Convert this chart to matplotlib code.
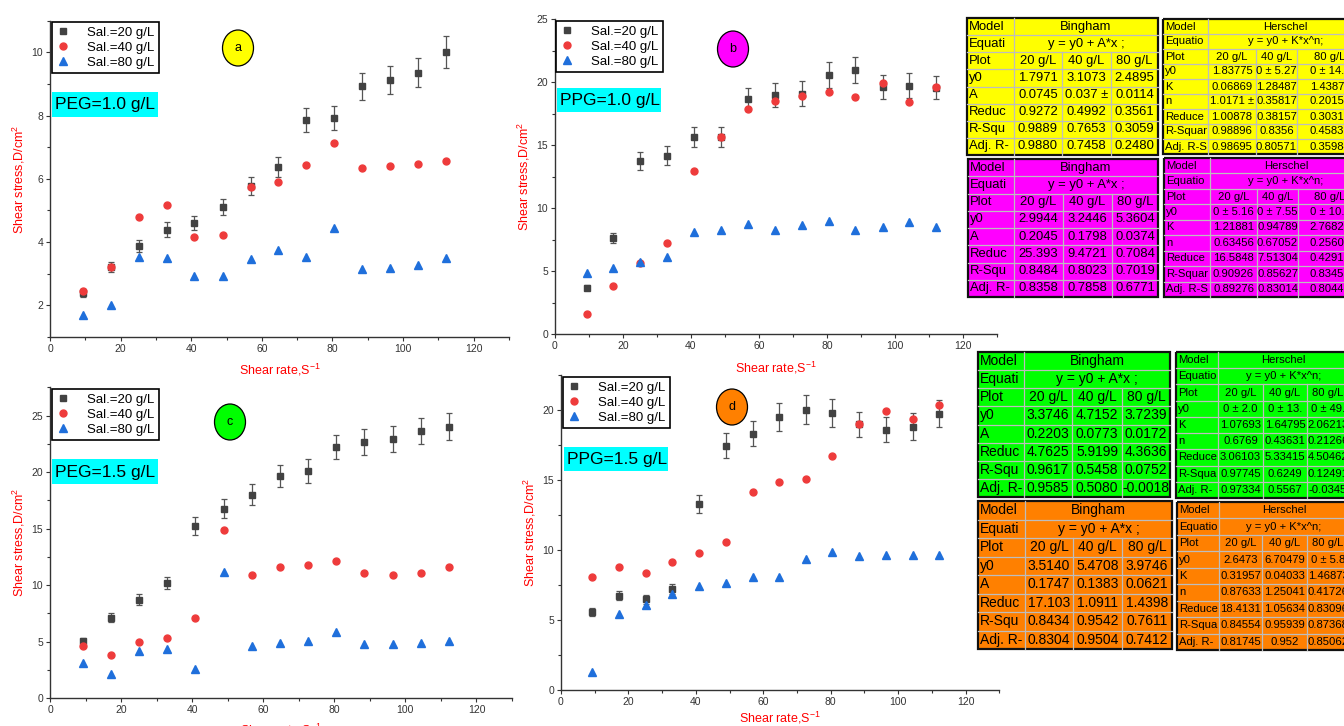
import matplotlib
matplotlib.use('Agg')
import matplotlib.pyplot as plt
from matplotlib.patches import Rectangle, Ellipse
from matplotlib.ticker import MultipleLocator

plt.rcParams['font.family'] = ['Liberation Sans', 'DejaVu Sans']
plt.rcParams['mathtext.default'] = 'regular'

W, H = 1344, 726

shear_rate = [9.3, 17.2, 25.1, 33.0, 40.9, 48.9, 56.8, 64.7, 72.6, 80.5, 88.4, 96.4, 104.3, 112.2]
sal_labels = ['Sal.=20 g/L', 'Sal.=40 g/L', 'Sal.=80 g/L']

# (a) PEG=1.0 g/L
a_20 = [2.39, 3.21, 3.88, 4.39, 4.60, 5.11, 5.78, 6.37, 7.86, 7.92, 8.93, 9.12, 9.36, 10.01]
a_20_err = [0.12, 0.16, 0.20, 0.23, 0.23, 0.26, 0.29, 0.31, 0.39, 0.38, 0.43, 0.45, 0.47, 0.51]
a_40 = [2.47, 3.21, 4.80, 5.16, 4.16, 4.21, 5.75, 5.89, 6.44, 7.14, 6.33, 6.41, 6.46, 6.56]
a_80 = [1.70, 2.02, 3.54, 3.50, 2.94, 2.92, 3.46, 3.74, 3.54, 4.45, 3.15, 3.19, 3.27, 3.50]

# (b) PPG=1.0 g/L
b_20 = [3.68, 7.63, 13.74, 14.17, 15.65, 15.65, 18.64, 18.99, 19.09, 20.60, 21.00, 19.65, 19.73, 19.57]
b_20_err = [0.18, 0.37, 0.69, 0.74, 0.79, 0.80, 0.93, 0.95, 0.98, 1.03, 1.03, 0.95, 0.98, 0.93]
b_40 = [1.56, 3.79, 5.67, 7.20, 12.95, 15.65, 17.88, 18.49, 18.91, 19.20, 18.86, 19.92, 18.41, 19.62]
b_80 = [4.85, 5.22, 5.72, 6.14, 8.08, 8.24, 8.77, 8.29, 8.69, 8.98, 8.29, 8.50, 8.92, 8.53]

# (c) PEG=1.5 g/L
c_20 = [5.07, 7.13, 8.73, 10.20, 15.27, 16.75, 18.01, 19.66, 20.10, 22.23, 22.67, 22.97, 23.64, 24.03]
c_20_err = [0.25, 0.38, 0.47, 0.53, 0.80, 0.85, 0.91, 0.97, 1.03, 1.09, 1.12, 1.15, 1.18, 1.18]
c_40 = [4.66, 3.86, 4.98, 5.37, 7.11, 14.86, 10.88, 11.62, 11.79, 12.12, 11.06, 10.88, 11.06, 11.62]
c_80 = [3.15, 2.15, 4.22, 4.39, 2.59, 11.14, 4.66, 4.86, 5.04, 5.84, 4.78, 4.83, 4.92, 5.10]

# (d) PPG=1.5 g/L
d_20 = [5.60, 6.74, 6.48, 7.24, 13.31, 17.45, 18.31, 19.48, 20.02, 19.76, 18.98, 18.60, 18.81, 19.74]
d_20_err = [0.28, 0.33, 0.32, 0.36, 0.65, 0.88, 0.90, 1.00, 1.02, 1.00, 0.88, 0.90, 0.95, 0.98]
d_40 = [8.07, 8.81, 8.36, 9.12, 9.79, 10.55, 14.12, 14.86, 15.07, 16.71, 18.98, 19.90, 19.36, 20.38]
d_80 = [1.33, 5.45, 6.12, 6.86, 7.45, 7.69, 8.05, 8.12, 9.40, 9.86, 9.57, 9.67, 9.69, 9.69]

# fit tables
conc_cols = ['20 g/L', '40 g/L', '80 g/L']
bing_labels = ['y0', 'A', 'Reduc', 'R-Squ', 'Adj. R-']
hers_labels_top = ['y0', 'K', 'n', 'Reduce', 'R-Squar', 'Adj. R-S']
hers_labels_bot = ['y0', 'K', 'n', 'Reduce', 'R-Squa', 'Adj. R-']

a_bingham = [['1.7971', '3.1073', '2.4895'], ['0.0745', '0.037 ±', '0.0114'],
             ['0.9272', '0.4992', '0.3561'], ['0.9889', '0.7653', '0.3059'],
             ['0.9880', '0.7458', '0.2480']]
a_herschel = [['1.83775', '0 ± 5.27', '0 ± 14.2'], ['0.06869', '1.28487', '1.43872'],
              ['1.0171 ±', '0.35817', '0.20158'], ['1.00878', '0.38157', '0.30314'],
              ['0.98896', '0.8356', '0.45836'], ['0.98695', '0.80571', '0.35984']]
b_bingham = [['2.9944', '3.2446', '5.3604'], ['0.2045', '0.1798', '0.0374'],
             ['25.393', '9.4721', '0.7084'], ['0.8484', '0.8023', '0.7019'],
             ['0.8358', '0.7858', '0.6771']]
b_herschel = [['0 ± 5.16', '0 ± 7.55', '0 ± 10.6'], ['1.21881', '0.94789', '2.76825'],
              ['0.63456', '0.67052', '0.25602'], ['16.5848', '7.51304', '0.42913'],
              ['0.90926', '0.85627', '0.83451'], ['0.89276', '0.83014', '0.80442']]
c_bingham = [['3.3746', '4.7152', '3.7239'], ['0.2203', '0.0773', '0.0172'],
             ['4.7625', '5.9199', '4.3636'], ['0.9617', '0.5458', '0.0752'],
             ['0.9585', '0.5080', '-0.0018']]
c_herschel = [['0 ± 2.0', '0 ± 13.', '0 ± 49.'], ['1.07693', '1.64795', '2.06213'],
              ['0.6769', '0.43631', '0.21266'], ['3.06103', '5.33415', '4.50462'],
              ['0.97745', '0.6249', '0.12491'], ['0.97334', '0.5567', '-0.0345']]
d_bingham = [['3.5140', '5.4708', '3.9746'], ['0.1747', '0.1383', '0.0621'],
             ['17.103', '1.0911', '1.4398'], ['0.8434', '0.9542', '0.7611'],
             ['0.8304', '0.9504', '0.7412']]
d_herschel = [['2.6473', '6.70479', '0 ± 5.8'], ['0.31957', '0.04033', '1.46873'],
              ['0.87633', '1.25041', '0.41726'], ['18.4131', '1.05634', '0.83096'],
              ['0.84554', '0.95939', '0.87368'], ['0.81745', '0.952', '0.85062']]

sq_color = '#424242'
ci_color = '#EE3B3B'
tr_color = '#1F6FDB'

fig = plt.figure(figsize=(W / 100, H / 100), dpi=100)
fig.patch.set_facecolor('white')

# overlay in pixel units for boxes / tables
ov = fig.add_axes([0, 0, 1, 1], zorder=10)
ov.set_xlim(0, W)
ov.set_ylim(H, 0)
ov.axis('off')
ov.patch.set_alpha(0)


def make_panel(box, ylim, ymaj, s20, e20, s40, s80, leg_xy, tag, tag_xy, tag_color,
               note, note_box, xlab_y):
    l, t, r, b = box
    ax = fig.add_axes([l / W, 1 - b / H, (r - l) / W, (b - t) / H])
    ax.errorbar(shear_rate, s20, yerr=e20, fmt='none', ecolor='#555555',
                elinewidth=0.9, capsize=2.2, capthick=0.9, zorder=2)
    ax.plot(shear_rate, s20, 's', color=sq_color, ms=4.6, label=sal_labels[0], zorder=3)
    ax.plot(shear_rate, s40, 'o', color=ci_color, ms=5.0, label=sal_labels[1], zorder=3)
    ax.plot(shear_rate, s80, '^', color=tr_color, ms=5.4, label=sal_labels[2], zorder=3)
    ax.set_xlim(0, 130)
    ax.set_ylim(*ylim)
    ax.xaxis.set_major_locator(MultipleLocator(20))
    ax.xaxis.set_minor_locator(MultipleLocator(10))
    ax.yaxis.set_major_locator(MultipleLocator(ymaj))
    ax.yaxis.set_minor_locator(MultipleLocator(ymaj / 2))
    for s in ['top', 'right']:
        ax.spines[s].set_visible(False)
    for s in ['left', 'bottom']:
        ax.spines[s].set_color('#333333')
        ax.spines[s].set_linewidth(1.0)
    ax.tick_params(which='major', direction='out', length=3, width=0.8,
                   colors='#333333', labelsize=7.5, pad=2)
    ax.tick_params(which='minor', direction='out', length=2, width=0.8, colors='#333333')
    ax.patch.set_alpha(0)
    ax.set_xlabel('Shear rate,S$^{-1}$', color='red', fontsize=9)
    ax.set_ylabel('Shear stress,D/cm$^2$', color='red', fontsize=9)
    ax.xaxis.set_label_coords(0.5, (b - xlab_y) / (b - t))
    ax.yaxis.set_label_coords((l - 23 - l) / (r - l), 0.5)
    leg = ax.legend(loc='upper left', bbox_to_anchor=leg_xy, bbox_transform=ov.transData,
                    borderaxespad=0, fancybox=False, framealpha=1, edgecolor='black',
                    fontsize=9.5, handlelength=1.0, handletextpad=1.3,
                    labelspacing=0.2, borderpad=0.35)
    leg.get_frame().set_linewidth(1.2)
    # letter tag
    ov.add_patch(Ellipse(tag_xy, 31, 36, facecolor=tag_color, edgecolor='black', lw=0.9))
    ov.text(tag_xy[0], tag_xy[1], tag, ha='center', va='center', fontsize=9)
    # concentration note
    nx0, ny0, nx1, ny1 = note_box
    ov.add_patch(Rectangle((nx0, ny0), nx1 - nx0, ny1 - ny0, facecolor='#00FFFF', edgecolor='none'))
    ov.text(nx0 + 3, (ny0 + ny1) / 2 + 0.5, note, ha='left', va='center', fontsize=12.5)
    return ax


def draw_table(x0, y0, widths, height, title, equation, labels, values, color, fs):
    nrows = 3 + len(labels)
    rh = height / nrows
    xs = [x0]
    for w in widths:
        xs.append(xs[-1] + w)
    ov.add_patch(Rectangle((x0, y0), xs[-1] - x0, height, facecolor=color, edgecolor='none'))
    for rr in range(1, nrows):
        ov.plot([x0, xs[-1]], [y0 + rr * rh] * 2, color='#BDBDBD', lw=0.9)
    ov.plot([xs[1], xs[1]], [y0, y0 + height], color='#BDBDBD', lw=0.9)
    for xv in xs[2:-1]:
        ov.plot([xv, xv], [y0 + 2 * rh, y0 + height], color='#BDBDBD', lw=0.9)
    ov.add_patch(Rectangle((x0, y0), xs[-1] - x0, height, facecolor='none',
                           edgecolor='#111111', lw=1.6))
    mid = (xs[1] + xs[-1]) / 2
    first = ['Model', 'Equati' if fs > 9 else 'Equatio', 'Plot'] + labels
    for rr, txt in enumerate(first):
        ov.text(x0 + 2, y0 + (rr + 0.5) * rh, txt, ha='left', va='center', fontsize=fs)
    ov.text(mid, y0 + 0.5 * rh, title, ha='center', va='center', fontsize=fs)
    ov.text(mid, y0 + 1.5 * rh, equation, ha='center', va='center', fontsize=fs)
    for c, col in enumerate(conc_cols):
        ov.text((xs[c + 1] + xs[c + 2]) / 2, y0 + 2.5 * rh, col, ha='center', va='center', fontsize=fs)
    for rr, row in enumerate(values):
        for c, v in enumerate(row):
            ov.text((xs[c + 1] + xs[c + 2]) / 2, y0 + (rr + 3.5) * rh, v,
                    ha='center', va='center', fontsize=fs)


make_panel((50, 20.7, 509, 337), (1, 11), 2, a_20, a_20_err, a_40, a_80,
           (52, 22), 'a', (238, 48), '#FFFF00', 'PEG=1.0 g/L', (52, 92, 158, 117), 362)
make_panel((555, 19.3, 996.7, 334), (0, 25), 5, b_20, b_20_err, b_40, b_80,
           (556, 21), 'b', (733, 49), '#FF00FF', 'PPG=1.0 g/L', (557, 88, 661, 112), 360)
make_panel((50, 387.3, 512, 698.3), (0, 27.5), 5, c_20, c_20_err, c_40, c_80,
           (52, 389), 'c', (230, 422), '#00FF00', 'PEG=1.5 g/L', (52, 459, 158, 484), 722)
make_panel((561, 375, 999.3, 690.3), (0, 22.5), 5, d_20, d_20_err, d_40, d_80,
           (563, 377), 'd', (732, 407), '#FF8000', 'PPG=1.5 g/L', (564, 447, 668, 471), 710)

draw_table(967, 18, [47, 48, 49, 47], 137, 'Bingham', 'y = y0 + A*x ;',
           bing_labels, a_bingham, '#FFFF00', 9.4)
draw_table(1163, 19, [45, 48, 41, 66], 135, 'Herschel', 'y = y0 + K*x^n;',
           hers_labels_top, a_herschel, '#FFFF00', 8.1)
draw_table(968, 159, [46, 49, 49, 46], 138, 'Bingham', 'y = y0 + A*x ;',
           bing_labels, b_bingham, '#FF00FF', 9.4)
draw_table(1164, 158, [46, 47, 41, 64], 139, 'Herschel', 'y = y0 + K*x^n;',
           hers_labels_top, b_herschel, '#FF00FF', 8.1)
draw_table(978, 352, [46, 48, 50, 48], 145, 'Bingham', 'y = y0 + A*x ;',
           bing_labels, c_bingham, '#00FF00', 10)
draw_table(1176, 352, [42, 45, 44, 42], 146, 'Herschel', 'y = y0 + K*x^n;',
           hers_labels_bot, c_herschel, '#00FF00', 8.1)
draw_table(978, 501, [47, 48, 49, 50], 148, 'Bingham', 'y = y0 + A*x ;',
           bing_labels, d_bingham, '#FF8000', 10)
draw_table(1177, 502, [42, 43, 45, 42], 148, 'Herschel', 'y = y0 + K*x^n;',
           hers_labels_bot, d_herschel, '#FF8000', 8.1)

fig.savefig('out.png', dpi=100)
